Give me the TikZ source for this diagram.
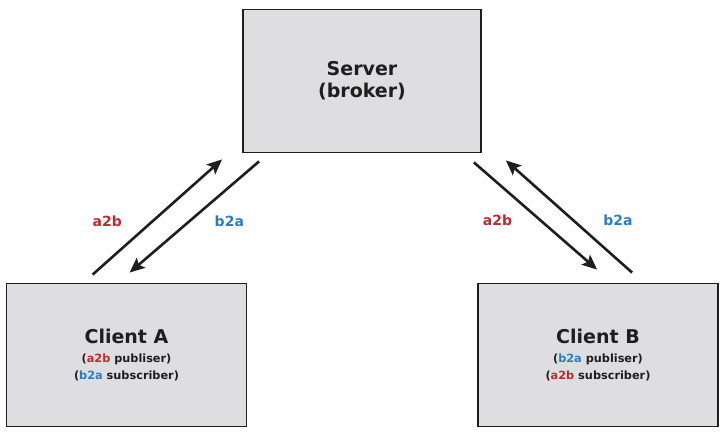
\documentclass[tikz,border=0pt]{standalone}
\usepackage{fontspec}
\setmainfont{DejaVu Sans}
\usetikzlibrary{arrows.meta}
\definecolor{boxgray}{RGB}{222,222,225}
\definecolor{atob}{RGB}{192,40,45}
\definecolor{btoa}{RGB}{40,125,200}
\definecolor{ink}{RGB}{30,30,30}
\tikzstyle{box} = [rectangle, draw=ink, line width=1.8pt, fill=boxgray, minimum width=238pt, minimum height=143pt, align=center, text=ink, font=\bfseries\fontsize{11.3}{17}\selectfont]
\tikzstyle{arrow} = [line width=2.6pt, ink, -{Stealth[length=15pt, width=13pt, inset=3pt]}]
\tikzstyle{tag} = [font=\bfseries\fontsize{14}{16}\selectfont, yshift=-4pt]
\newcommand{\bigline}[1]{{\fontsize{19}{22}\selectfont #1}}

\begin{document}
\begin{tikzpicture}[x=1pt, y=1pt]
	\useasboundingbox (0,0) rectangle (726,444);

	% Boxes
	\node (server) [box] at (362,363) {\bigline{Server}\\[5pt]\bigline{(broker)}};
	\node (clientA) [box, minimum width=240pt] at (126.5,89) {\bigline{Client A}\\[2pt]
		(\textcolor{atob}{a2b} publiser)\\
		(\textcolor{btoa}{b2a} subscriber)};
	\node (clientB) [box, minimum width=240pt] at (598,89) {\bigline{Client B}\\[2pt]
		(\textcolor{btoa}{b2a} publiser)\\
		(\textcolor{atob}{a2b} subscriber)};

	% Arrow ends, left side
	\coordinate (aL0) at ([shift={(87,8)}]clientA.north west);
	\coordinate (aL1) at ([shift={(-20,-6)}]server.south west);
	\coordinate (bL0) at ([shift={(17,-8)}]server.south west);
	\coordinate (bL1) at ([shift={(124,10)}]clientA.north west);

	% Arrow ends, right side
	\coordinate (aR0) at ([shift={(-8,-9)}]server.south east);
	\coordinate (aR1) at ([shift={(120,13)}]clientB.north west);
	\coordinate (bR0) at ([shift={(155,10)}]clientB.north west);
	\coordinate (bR1) at ([shift={(24,-7)}]server.south east);

	% Arrows
	\draw [arrow] (aL0) -- node[tag, text=atob, xshift=-50pt] {a2b} (aL1);
	\draw [arrow] (bL0) -- node[tag, text=btoa, xshift=35pt] {b2a} (bL1);
	\draw [arrow] (aR0) -- node[tag, text=atob, xshift=-38pt] {a2b} (aR1);
	\draw [arrow] (bR0) -- node[tag, text=btoa, xshift=49pt] {b2a} (bR1);

\end{tikzpicture}
\end{document}
